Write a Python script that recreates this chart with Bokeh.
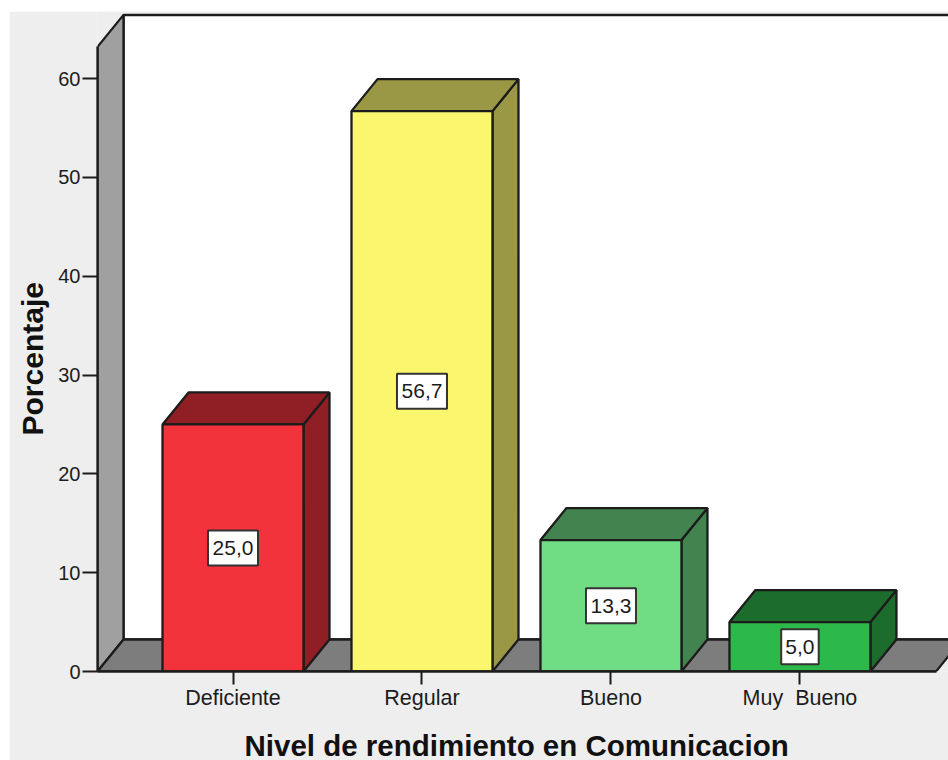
from bokeh.plotting import figure
from bokeh.models import FixedTicker, Range1d, Title
from bokeh.embed import file_html
from bokeh.resources import INLINE
from bokeh.core.properties import value

categories = ["Deficiente", "Regular", "Bueno", "Muy \u00a0Bueno"]
percentages = [25.0, 56.7, 13.3, 5.0]
labels = ["25,0", "56,7", "13,3", "5,0"]
y_ticks = [0, 10, 20, 30, 40, 50, 60]
front_colors = ["#f2333b", "#faf76f", "#70dd84", "#2db84a"]
side_colors = ["#8f1f24", "#9a9845", "#43834f", "#1c6d2d"]

positions = [1, 2, 3, 4]
BAR_W = 0.746
DX = 0.1376
DY = 3.238
FRONT_TOP = 63.2
X_L, X_R, X_FRONT_END = 0.283, 4.786, 4.72
Y_END = 66.78
INK = "#1c1c1c"
BG = "#eeeeee"
FONT = "Liberation Sans"
LW = 2.3

p = figure(width=939, height=764, margin=(11, 0, 0, 9), output_backend="svg",
           toolbar_location=None, x_range=Range1d(X_L, X_R), y_range=Range1d(0, Y_END),
           min_border_left=88, min_border_bottom=104, min_border_top=0, min_border_right=0)
p.background_fill_color = BG
p.border_fill_color = BG
p.outline_line_color = None
p.grid.visible = False

# back wall (white), left wall, floor
p.patch([X_L + DX, X_R + 1, X_R + 1, X_L + DX], [DY, DY, FRONT_TOP + DY, FRONT_TOP + DY],
        fill_color="white", line_color=INK, line_width=2.5)
p.patch([X_L, X_L + DX, X_L + DX, X_L], [0, DY, FRONT_TOP + DY, FRONT_TOP],
        fill_color="#a0a0a0", line_color=INK, line_width=LW)
p.patch([X_L, X_L + DX, X_FRONT_END + DX, X_FRONT_END], [0, DY, DY, 0],
        fill_color="#7d7d7d", line_color=INK, line_width=LW)

for x, v, c_f, c_s in zip(positions, percentages, front_colors, side_colors):
    l, r = x - BAR_W / 2, x + BAR_W / 2
    p.patch([r, r + DX, r + DX, r], [0, DY, v + DY, v], fill_color=c_s, line_color=INK, line_width=LW)
    p.patch([l, l + DX, r + DX, r], [v, v + DY, v + DY, v], fill_color=c_s, line_color=INK, line_width=LW)
    p.patch([l, r, r, l], [0, 0, v, v], fill_color=c_f, line_color=INK, line_width=LW)

mids = [v / 2 for v in percentages]
p.rect(positions, mids, width=[12.5 * len(s) for s in labels], height=35,
       width_units="screen", height_units="screen",
       fill_color="white", line_color="#333333", line_width=2)
p.text(positions, mids, text=labels, text_align="center", text_baseline="middle",
       text_font=value(FONT), text_font_size="21px", text_color=INK)

xa = p.xaxis[0]
xa.ticker = FixedTicker(ticks=positions)
xa.major_label_overrides = dict(zip(positions, categories))
xa.bounds = (X_L, X_FRONT_END)
ya = p.yaxis[0]
ya.ticker = FixedTicker(ticks=y_ticks)
ya.bounds = (0, FRONT_TOP)
for a in (xa, ya):
    a.axis_line_color = INK
    a.axis_line_width = LW
    a.major_tick_line_color = INK
    a.major_tick_line_width = 2
    a.major_tick_in = 0
    a.minor_tick_line_color = None
    a.major_label_text_font = FONT
    a.major_label_text_color = INK
xa.major_tick_out = 13
ya.major_tick_out = 15
xa.major_label_standoff = 1
ya.major_label_standoff = 2
xa.major_label_text_font_size = "21.5px"
ya.major_label_text_font_size = "20px"

p.add_layout(Title(text="Nivel de rendimiento en Comunicacion", align="left", offset=147,
                   standoff=28, text_line_height=0.75, text_font=FONT, text_font_style="bold",
                   text_font_size="29.5px", text_color="#111111"), "below")
p.add_layout(Title(text="Porcentaje", align="left", offset=236, vertical_align="top",
                   standoff=9, text_line_height=0.75, text_font=FONT, text_font_style="bold",
                   text_font_size="30px", text_color="#111111"), "left")

open("out.html", "w").write(file_html(p, INLINE))
